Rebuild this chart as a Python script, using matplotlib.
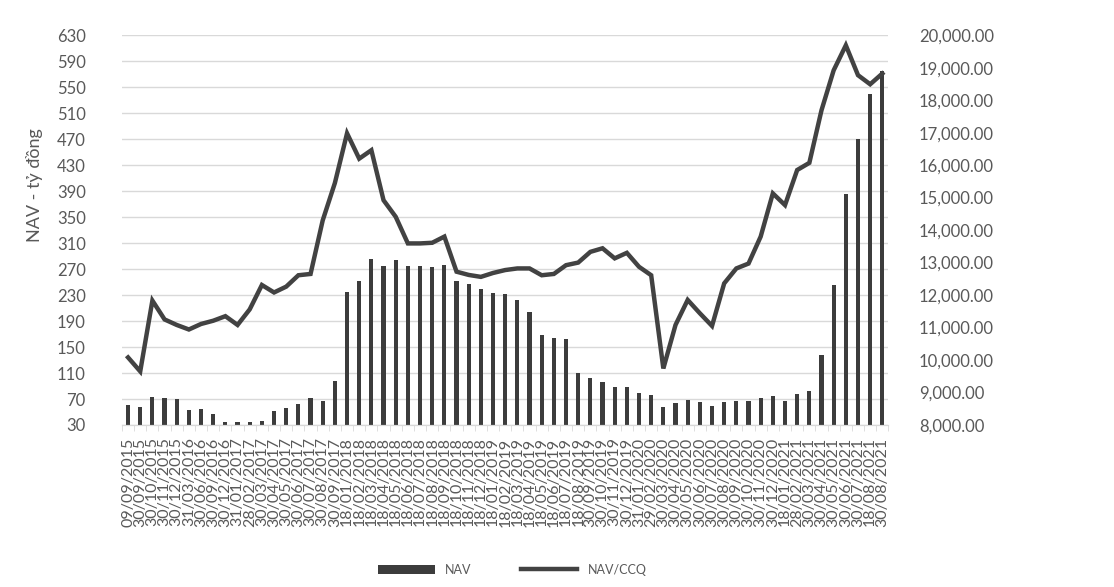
import matplotlib
matplotlib.use("Agg")
import matplotlib.pyplot as plt
import numpy as np
from matplotlib.ticker import FuncFormatter, MultipleLocator

# -----------------------------
# Data
# -----------------------------
dates = [
    "09/09/2015", "30/09/2015", "30/10/2015", "30/11/2015", "30/12/2015",
    "31/03/2016", "30/06/2016", "30/09/2016", "30/12/2016", "31/01/2017",
    "28/02/2017", "30/03/2017", "30/04/2017", "30/05/2017", "30/06/2017",
    "30/07/2017", "30/08/2017", "30/09/2017", "18/01/2018", "18/02/2018",
    "18/03/2018", "18/04/2018", "18/05/2018", "18/06/2018", "18/07/2018",
    "18/08/2018", "18/09/2018", "18/10/2018", "18/11/2018", "18/12/2018",
    "18/01/2019", "18/02/2019", "18/03/2019", "18/04/2019", "18/05/2019",
    "18/06/2019", "18/07/2019", "18/08/2019", "30/09/2019", "30/10/2019",
    "30/11/2019", "30/12/2019", "31/01/2020", "29/02/2020", "30/03/2020",
    "30/04/2020", "30/05/2020", "30/06/2020", "30/07/2020", "30/08/2020",
    "30/09/2020", "30/10/2020", "30/11/2020", "30/12/2020", "18/01/2021",
    "28/02/2021", "30/03/2021", "30/04/2021", "30/05/2021", "30/06/2021",
    "30/07/2021", "18/08/2021", "30/08/2021",
]

nav = [
    60, 58, 73, 71, 70, 53, 54, 47, 35, 35,
    35, 36, 52, 56, 62, 72, 67, 98, 235, 251,
    285, 275, 284, 275, 275, 273, 276, 252, 247, 240,
    233, 232, 222, 204, 168, 164, 162, 110, 103, 96,
    88, 89, 80, 76, 57, 64, 68, 66, 59, 66,
    67, 67, 71, 75, 67, 78, 83, 138, 245, 386,
    471, 539, 575,
]

nav_ccq = [
    10080, 9650, 11830, 11250, 11080, 10940, 11110, 11210, 11350, 11080,
    11560, 12310, 12080, 12260, 12610, 12650, 14300, 15450, 16980, 16200,
    16460, 14920, 14410, 13590, 13590, 13610, 13800, 12720, 12620, 12560,
    12680, 12770, 12820, 12820, 12610, 12650, 12920, 13000, 13330, 13440,
    13130, 13300, 12870, 12610, 9740, 11080, 11850, 11440, 11050, 12360,
    12820, 12970, 13800, 15130, 14770, 15850, 16070, 17690, 18920, 19690,
    18770, 18490, 18820,
]

nav_ticks = list(range(30, 631, 40))

# -----------------------------
# Figure
# -----------------------------
plt.rcParams["font.family"] = ["Lato", "DejaVu Sans"]

fig = plt.figure(figsize=(11.14, 5.87), dpi=100, facecolor="white")
ax = fig.add_axes([0.1095, 0.276, 0.688, 0.664])
ax2 = ax.twinx()

x = np.arange(len(dates))
bar_color = "#3c3c3c"
line_color = "#424242"
text_color = "#595959"
grid_color = "#d9d9d9"

bars = ax.bar(x, nav, width=0.34, color=bar_color, zorder=2, label="NAV")
line, = ax2.plot(x, nav_ccq, color=line_color, linewidth=3.2,
                 solid_joinstyle="miter", label="NAV/CCQ", zorder=3)

# Left axis
ax.set_ylim(30, 630)
ax.set_yticks(nav_ticks)
ax.set_ylabel("NAV - tỷ đồng", fontsize=13, color=text_color)
ax.yaxis.set_label_coords(-0.103, 0.615)
ax.grid(axis="y", color=grid_color, linewidth=1.0, zorder=0)
ax.set_axisbelow(True)

# Right axis
ax2.set_ylim(8000, 20000)
ax2.yaxis.set_major_locator(MultipleLocator(1000))
ax2.yaxis.set_major_formatter(FuncFormatter(lambda v, p: f"{v:,.2f}"))

# X axis
ax.set_xlim(-0.5, len(dates) - 0.5)
ax.set_xticks(x)
ax.set_xticklabels(dates, rotation=90, fontsize=11.5, color=text_color)
ax.set_xticks(np.arange(-0.5, len(dates), 1), minor=True)
ax.tick_params(axis="x", which="major", length=0, pad=9)
ax.tick_params(axis="x", which="minor", length=4, color=grid_color)

ax.tick_params(axis="y", length=0, labelsize=12, labelcolor=text_color, pad=26)
ax2.tick_params(axis="y", length=0, labelsize=12, labelcolor=text_color, pad=22)

for a in (ax, ax2):
    for name, spine in a.spines.items():
        spine.set_visible(name == "bottom")
        spine.set_color(grid_color)

# Legend
fig.legend(handles=[bars, line], labels=["NAV", "NAV/CCQ"], loc="lower center",
           bbox_to_anchor=(0.46, 0.0), ncol=2, frameon=False, fontsize=9,
           handlelength=4.5, columnspacing=4, labelcolor=text_color)

plt.savefig("out.png", dpi=100)
